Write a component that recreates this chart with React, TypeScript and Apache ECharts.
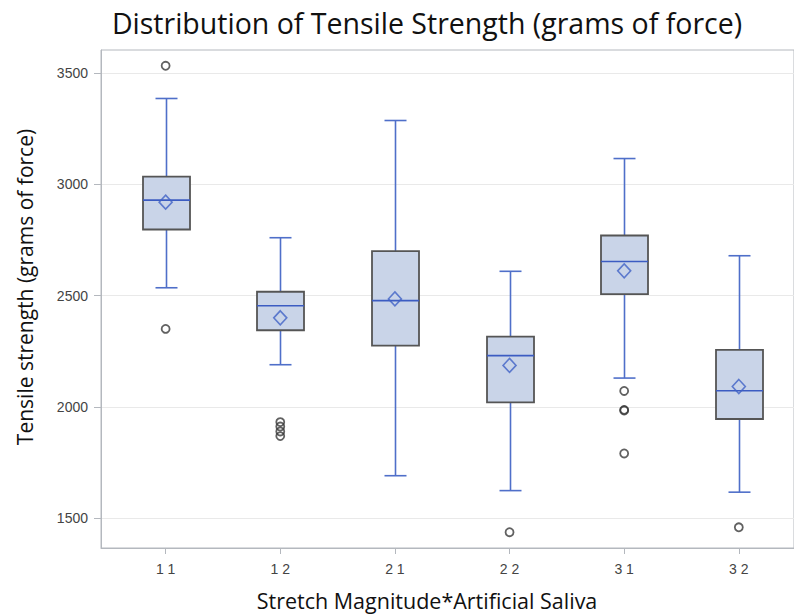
import React, { useEffect, useRef } from "react";
import * as echarts from "echarts";

const categories = ["1 1", "1 2", "2 1", "2 2", "3 1", "3 2"];
const whiskerLow = [2535, 2189, 1690, 1623, 2129, 1616];
const q1 = [2797, 2344, 2275, 2020, 2506, 1945];
const median = [2929, 2454, 2477, 2230, 2653, 2072];
const q3 = [3035, 2517, 2700, 2315, 2770, 2256];
const whiskerHigh = [3386, 2760, 3287, 2609, 3116, 2679];
const means = [2920, 2400, 2485, 2186, 2611, 2091];
const outlierCat = [0, 0, 1, 1, 1, 1, 3, 4, 4, 4, 4, 5];
const outlierVal = [3533, 2350, 1931, 1911, 1889, 1868, 1436, 2071, 1983, 1986, 1790, 1458];
const yTicks = [1500, 2000, 2500, 3000, 3500];

const titleText = "Distribution of Tensile Strength (grams of force)";
const xName = "Stretch Magnitude*Artificial Saliva";
const yName = "Tensile strength (grams of force)";

const BLUE = "#4f6fc9";
const MEDIAN_BLUE = "#3c5cc2";
const BOX_FILL = "#c9d4e8";
const BOX_STROKE = "#555555";
const AXIS = "#b4b8be";

export default function App() {
  const ref = useRef<HTMLDivElement>(null);
  useEffect(() => {
    if (!ref.current) return;
    const chart = echarts.init(ref.current, null, { renderer: "svg" });
    const catIdx = categories.map((_, i) => i);
    const boxData = catIdx.map((i) => [i, whiskerLow[i], q1[i], median[i], q3[i], whiskerHigh[i]]);
    chart.setOption({
      animation: false,
      backgroundColor: "#ffffff",
      grid: {
        left: 101,
        top: 50,
        right: -4,
        bottom: 68,
        show: true,
        borderColor: AXIS,
        borderWidth: 1,
        containLabel: false,
      },
      xAxis: {
        type: "value",
        min: (101 - 166) / 115.3,
        max: (798 - 166) / 115.3,
        splitLine: { show: false },
        axisLine: { show: true, onZero: false, lineStyle: { color: AXIS } },
        axisTick: { show: true, length: 6, customValues: catIdx, lineStyle: { color: AXIS } },
        axisLabel: {
          customValues: catIdx,
          formatter: (v: number) => categories[Math.round(v)] ?? "",
          margin: 14,
          fontSize: 14,
          color: "#444444",
          fontFamily: "Liberation Sans",
        },
      },
      yAxis: {
        type: "value",
        min: 1365,
        max: 3604,
        axisLine: { show: true, onZero: false, lineStyle: { color: AXIS } },
        axisTick: { show: true, length: 7, customValues: yTicks, lineStyle: { color: AXIS } },
        axisLabel: {
          customValues: yTicks,
          formatter: (v: number) => String(v),
          margin: 13,
          fontSize: 14,
          color: "#444444",
          fontFamily: "Liberation Sans",
        },
        splitLine: { show: true, lineStyle: { color: "#e9e9e9", width: 1 } },
      },
      graphic: [
        {
          type: "text",
          x: 427,
          y: 23,
          style: {
            text: titleText,
            font: "28.5px 'Open Sans'",
            fill: "#111111",
            textAlign: "center",
            textVerticalAlign: "middle",
          },
        },
        {
          type: "text",
          x: 427,
          y: 600,
          style: {
            text: xName,
            font: "21.5px 'Open Sans'",
            fill: "#111111",
            textAlign: "center",
            textVerticalAlign: "middle",
          },
        },
        {
          type: "text",
          x: 25,
          y: 287,
          rotation: Math.PI / 2,
          style: {
            text: yName,
            font: "21px 'Open Sans'",
            fill: "#111111",
            textAlign: "center",
            textVerticalAlign: "middle",
          },
        },
      ],
      series: [
        {
          type: "custom",
          data: boxData,
          encode: { x: 0, y: [1, 2, 3, 4, 5] },
          z: 2,
          renderItem: (params: any, api: any) => {
            const x = api.value(0);
            const pLow = api.coord([x, api.value(1)]);
            const pQ1 = api.coord([x, api.value(2)]);
            const pMed = api.coord([x, api.value(3)]);
            const pQ3 = api.coord([x, api.value(4)]);
            const pHigh = api.coord([x, api.value(5)]);
            const cx = Math.round(pLow[0]) + 0.5;
            const bw = 47;
            const cw = 22;
            const ws = { stroke: BLUE, lineWidth: 1.6 };
            return {
              type: "group",
              children: [
                { type: "line", shape: { x1: cx, y1: pHigh[1], x2: cx, y2: pQ3[1] }, style: ws },
                { type: "line", shape: { x1: cx, y1: pQ1[1], x2: cx, y2: pLow[1] }, style: ws },
                { type: "line", shape: { x1: cx - cw / 2, y1: pHigh[1], x2: cx + cw / 2, y2: pHigh[1] }, style: ws },
                { type: "line", shape: { x1: cx - cw / 2, y1: pLow[1], x2: cx + cw / 2, y2: pLow[1] }, style: ws },
                {
                  type: "rect",
                  shape: { x: cx - bw / 2, y: pQ3[1], width: bw, height: pQ1[1] - pQ3[1] },
                  style: { fill: BOX_FILL, stroke: BOX_STROKE, lineWidth: 1.8 },
                },
                {
                  type: "line",
                  shape: { x1: cx - bw / 2, y1: pMed[1], x2: cx + bw / 2, y2: pMed[1] },
                  style: { stroke: MEDIAN_BLUE, lineWidth: 1.6 },
                },
              ],
            };
          },
        },
        {
          type: "scatter",
          data: catIdx.map((i) => [i, means[i]]),
          symbol: "diamond",
          symbolSize: [13, 14],
          z: 3,
          itemStyle: { color: "rgba(0,0,0,0)", borderColor: "#4062c6", borderWidth: 1.6 },
        },
        {
          type: "scatter",
          data: outlierCat.map((c, k) => [c, outlierVal[k]]),
          symbol: "circle",
          symbolSize: 8,
          z: 3,
          itemStyle: { color: "rgba(255,255,255,0)", borderColor: "#3a3a3a", borderWidth: 1.8 },
        },
      ],
    });
    return () => chart.dispose();
  }, []);
  return <div ref={ref} style={{ width: 794, height: 616, position: "absolute", left: 0, top: 0 }} />;
}
